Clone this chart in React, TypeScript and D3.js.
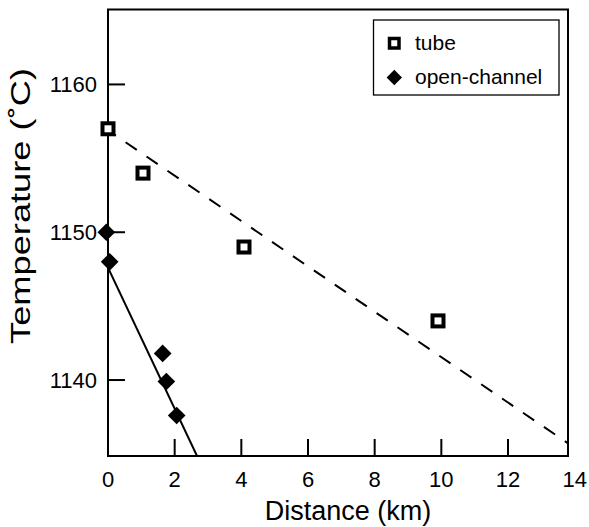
import React from "react";
import * as d3 from "d3";

// Measured temperatures along the flow
const tubeDistance = [0, 1.05, 4.08, 9.9];
const tubeTemp = [1157, 1154, 1149, 1144];
const channelDistance = [-0.05, 0.05, 1.64, 1.75, 2.06];
const channelTemp = [1150, 1148, 1141.8, 1139.9, 1137.6];

// Cooling trends: [intercept (°C), slope (°C/km)]
const tubeTrend = [1156.9, -1.535];
const channelTrend = [1147.6, -4.77];

const xTicks = [0, 2, 4, 6, 8, 10, 12, 14];
const yTicks = [1140, 1150, 1160];

const W = 589;
const H = 527;
const left = 108;
const right = 568;
const top = 9.5;
const bottom = 456;

const FONT = "'Liberation Sans', Arial, Helvetica, sans-serif";

export default function App() {
  const x = d3.scaleLinear().domain([0, 13.8]).range([left, right]);
  const y = d3.scaleLinear().domain([1134.86, 1165.07]).range([bottom, top]);

  const trendPath = (trend: number[], x1: number) => {
    const line = d3
      .line<number>()
      .x((d) => x(d))
      .y((d) => y(trend[0] + trend[1] * d));
    return line([0, x1]) || "";
  };

  // end of the steep trend where it meets the bottom of the frame
  const channelEnd = (y.domain()[0] - channelTrend[0]) / channelTrend[1];

  const diamond = d3.symbol().type(d3.symbolDiamond2).size(200)();
  const diamondSmall = d3.symbol().type(d3.symbolDiamond2).size(150)();

  return (
    <svg
      width={W}
      height={H}
      style={{ position: "absolute", left: 0, top: 0, background: "#fff" }}
      fontFamily={FONT}
    >
      <defs>
        <clipPath id="plot-area">
          <rect x={left} y={top} width={right - left} height={bottom - top} />
        </clipPath>
      </defs>

      {/* trend lines */}
      <g clipPath="url(#plot-area)" fill="none" stroke="#000">
        <path
          d={trendPath(tubeTrend, 13.8)}
          strokeWidth={2}
          strokeDasharray="13.5,11.8"
          strokeDashoffset={4}
        />
        <path d={trendPath(channelTrend, channelEnd)} strokeWidth={2} />
      </g>

      {/* frame */}
      <rect
        x={left}
        y={top}
        width={right - left}
        height={bottom - top}
        fill="none"
        stroke="#000"
        strokeWidth={2}
      />

      {/* x axis ticks and labels */}
      <g>
        {xTicks.map((t) => (
          <g key={t}>
            {t > 0 && x(t) < right - 1 && (
              <line x1={x(t)} x2={x(t)} y1={bottom} y2={bottom - 17} stroke="#000" strokeWidth={2} />
            )}
            <text x={x(t)} y={487} textAnchor="middle" fontSize={22}>
              {t}
            </text>
          </g>
        ))}
      </g>

      {/* y axis ticks and labels */}
      <g>
        {yTicks.map((t) => (
          <g key={t}>
            <line x1={left} x2={left + 17} y1={y(t)} y2={y(t)} stroke="#000" strokeWidth={2} />
            <text x={97} y={y(t) + 8} textAnchor="end" fontSize={22}>
              {t}
            </text>
          </g>
        ))}
      </g>

      {/* axis titles */}
      <text x={348} y={520} textAnchor="middle" fontSize={27}>
        Distance (km)
      </text>
      <text
        transform={`translate(30, 206) rotate(-90)`}
        textAnchor="middle"
        fontSize={28}
        textLength={276}
        lengthAdjust="spacingAndGlyphs"
      >
        Temperature (˚C)
      </text>

      {/* tube samples */}
      <g>
        {tubeDistance.map((d, i) => (
          <rect
            key={i}
            x={x(d) - 5.5}
            y={y(tubeTemp[i]) - 5.5}
            width={11}
            height={11}
            fill="#fff"
            stroke="#000"
            strokeWidth={4}
          />
        ))}
      </g>

      {/* open-channel samples */}
      <g>
        {channelDistance.map((d, i) => (
          <path key={i} d={diamond || ""} transform={`translate(${x(d)},${y(channelTemp[i])})`} fill="#000" />
        ))}
      </g>

      {/* legend */}
      <g>
        <rect x={373.5} y={20} width={185.5} height={75} fill="#fff" stroke="#000" strokeWidth={1.3} />
        <rect x={389.5} y={38.5} width={9.5} height={9.5} fill="#fff" stroke="#000" strokeWidth={3.5} />
        <text x={415} y={50} fontSize={21}>
          tube
        </text>
        <path d={diamondSmall || ""} transform="translate(394.3,77.5)" fill="#000" />
        <text x={415} y={84} fontSize={21}>
          open-channel
        </text>
      </g>
    </svg>
  );
}
